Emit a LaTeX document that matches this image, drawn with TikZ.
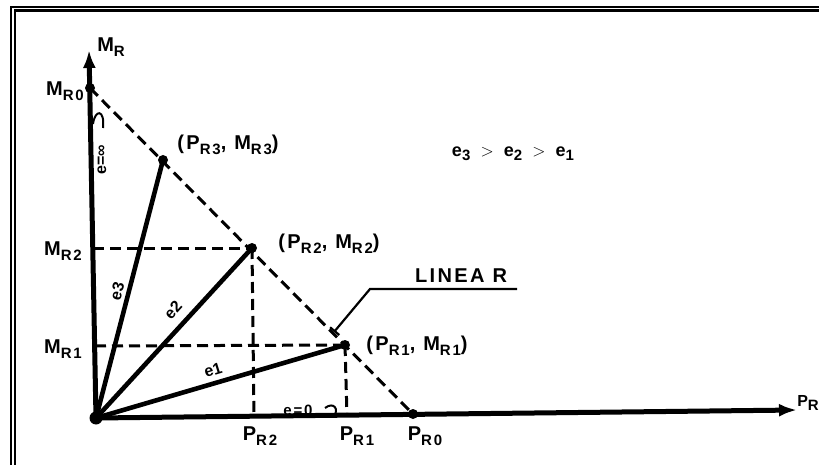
\documentclass[tikz,border=0pt]{standalone}
\usepackage{fontspec}
\usetikzlibrary{arrows.meta}
\newfontfamily\lf[LetterSpace=12]{Liberation Sans}
\newfontfamily\lfn{Liberation Sans}
\newcommand\lsub[1]{\raisebox{-0.45ex}{\fontsize{15}{15}\selectfont #1}}
\tikzset{
  lbl/.style={font=\lf\bfseries\fontsize{20}{20}\selectfont, inner sep=0pt},
  smalllbl/.style={font=\lf\bfseries\fontsize{15}{15}\selectfont, inner sep=0pt},
  rotlbl/.style={font=\lfn\bfseries\fontsize{16}{16}\selectfont, inner sep=0pt},
  axis/.style={line width=5pt, -{Latex[length=18pt,width=13pt]}},
  ray/.style={line width=4.6pt, line cap=round},
  dsh/.style={line width=3pt, dash pattern=on 11pt off 6pt},
  dot/.style={circle, fill=black, minimum size=10pt, inner sep=0pt},
  frameline/.style={line width=1.4pt},
}
\begin{document}
\begin{tikzpicture}[x=1pt,y=-1pt]
\useasboundingbox (0,0) rectangle (819,465);
% frame
\draw[frameline] (11,465) -- (11,7) -- (819,7);
\draw[line width=2.6pt] (14.8,465) -- (14.8,10.8) -- (819,10.8);

% points
\coordinate (O) at (96,418);
\coordinate (MTip) at (89,50);
\coordinate (PTip) at (797,410);
\node[dot] (MR0) at (90,88) {};
\node[dot] (P3) at (163,160) {};
\node[dot] (P2) at (252,248) {};
\node[dot] (P1) at (345,345) {};
\node[dot] (PR0) at (413,414) {};
\coordinate (A2) at (93,248);
\coordinate (A1) at (95,346);
\coordinate (B2) at (254,417);
\coordinate (B1) at (347,416);

% dashed lines
\draw[dsh] (MR0.center) -- (PR0.center);
\draw[dsh] (A2) -- (P2.center);
\draw[dsh] (A1) -- (P1.center);
\draw[dsh] (P2.center) -- (B2);
\draw[dsh] (P1.center) -- (B1);

% axes
\draw[axis] (O) -- (MTip);
\draw[axis] (O) -- (PTip);
\fill (O) circle (6.5pt);

% rays
\draw[ray] (O) -- (P3.center);
\draw[ray] (O) -- (P2.center);
\draw[ray] (O) -- (P1.center);

% LINEA R leader
\coordinate (L1) at (517,289);
\coordinate (L2) at (370,289);
\coordinate (L3) at (334,332);
\draw[line width=2.2pt, -{Bar[width=12pt]}] (L1) -- (L2) -- (L3);
\node[lbl] (linea) at (461,276) {LINEA R};

% angle marks
\draw[line width=2pt] (93,124) .. controls (95,109) and (105,109) .. (103,128);
\draw[line width=2pt] (325,408) .. controls (334,401) and (340,410) .. (333,417);

% labels
\node[lbl] (lMR) at (111,47) {M\lsub{R}};
\node[lbl] (lMR0) at (65,91) {M\lsub{R0}};
\node[lbl] (lMR2) at (63,251) {M\lsub{R2}};
\node[lbl] (lMR1) at (63,349) {M\lsub{R1}};
\node[lbl] (lP3) at (228,145) {(P\lsub{R3}, M\lsub{R3})};
\node[lbl] (lP2) at (329,244) {(P\lsub{R2}, M\lsub{R2})};
\node[lbl] (lP1) at (417,346) {(P\lsub{R1}, M\lsub{R1})};
\node[lbl] (lPR2) at (260,436) {P\lsub{R2}};
\node[lbl] (lPR1) at (357,436) {P\lsub{R1}};
\node[lbl] (lPR0) at (425,436) {P\lsub{R0}};
\node[lbl, font=\lf\bfseries\fontsize{16}{16}\selectfont] (lPR) at (808,403) {P\lsub{R}};
\node[smalllbl, font=\lf\bfseries\fontsize{18}{18}\selectfont] (ineq) at (513,154) {e\lsub{3} \,$>$\, e\lsub{2} \,$>$\, e\lsub{1}};
\node[rotlbl, rotate=75] (le3) at (117,291) {e3};
\node[rotlbl, rotate=48] (le2) at (173,310) {e2};
\node[rotlbl, rotate=17] (le1) at (213,370) {e1};
\node[smalllbl] (le0) at (298,410) {e=0};
\node[rotlbl, rotate=90] (leinf) at (102,160) {e=∞};
\end{tikzpicture}
\end{document}
